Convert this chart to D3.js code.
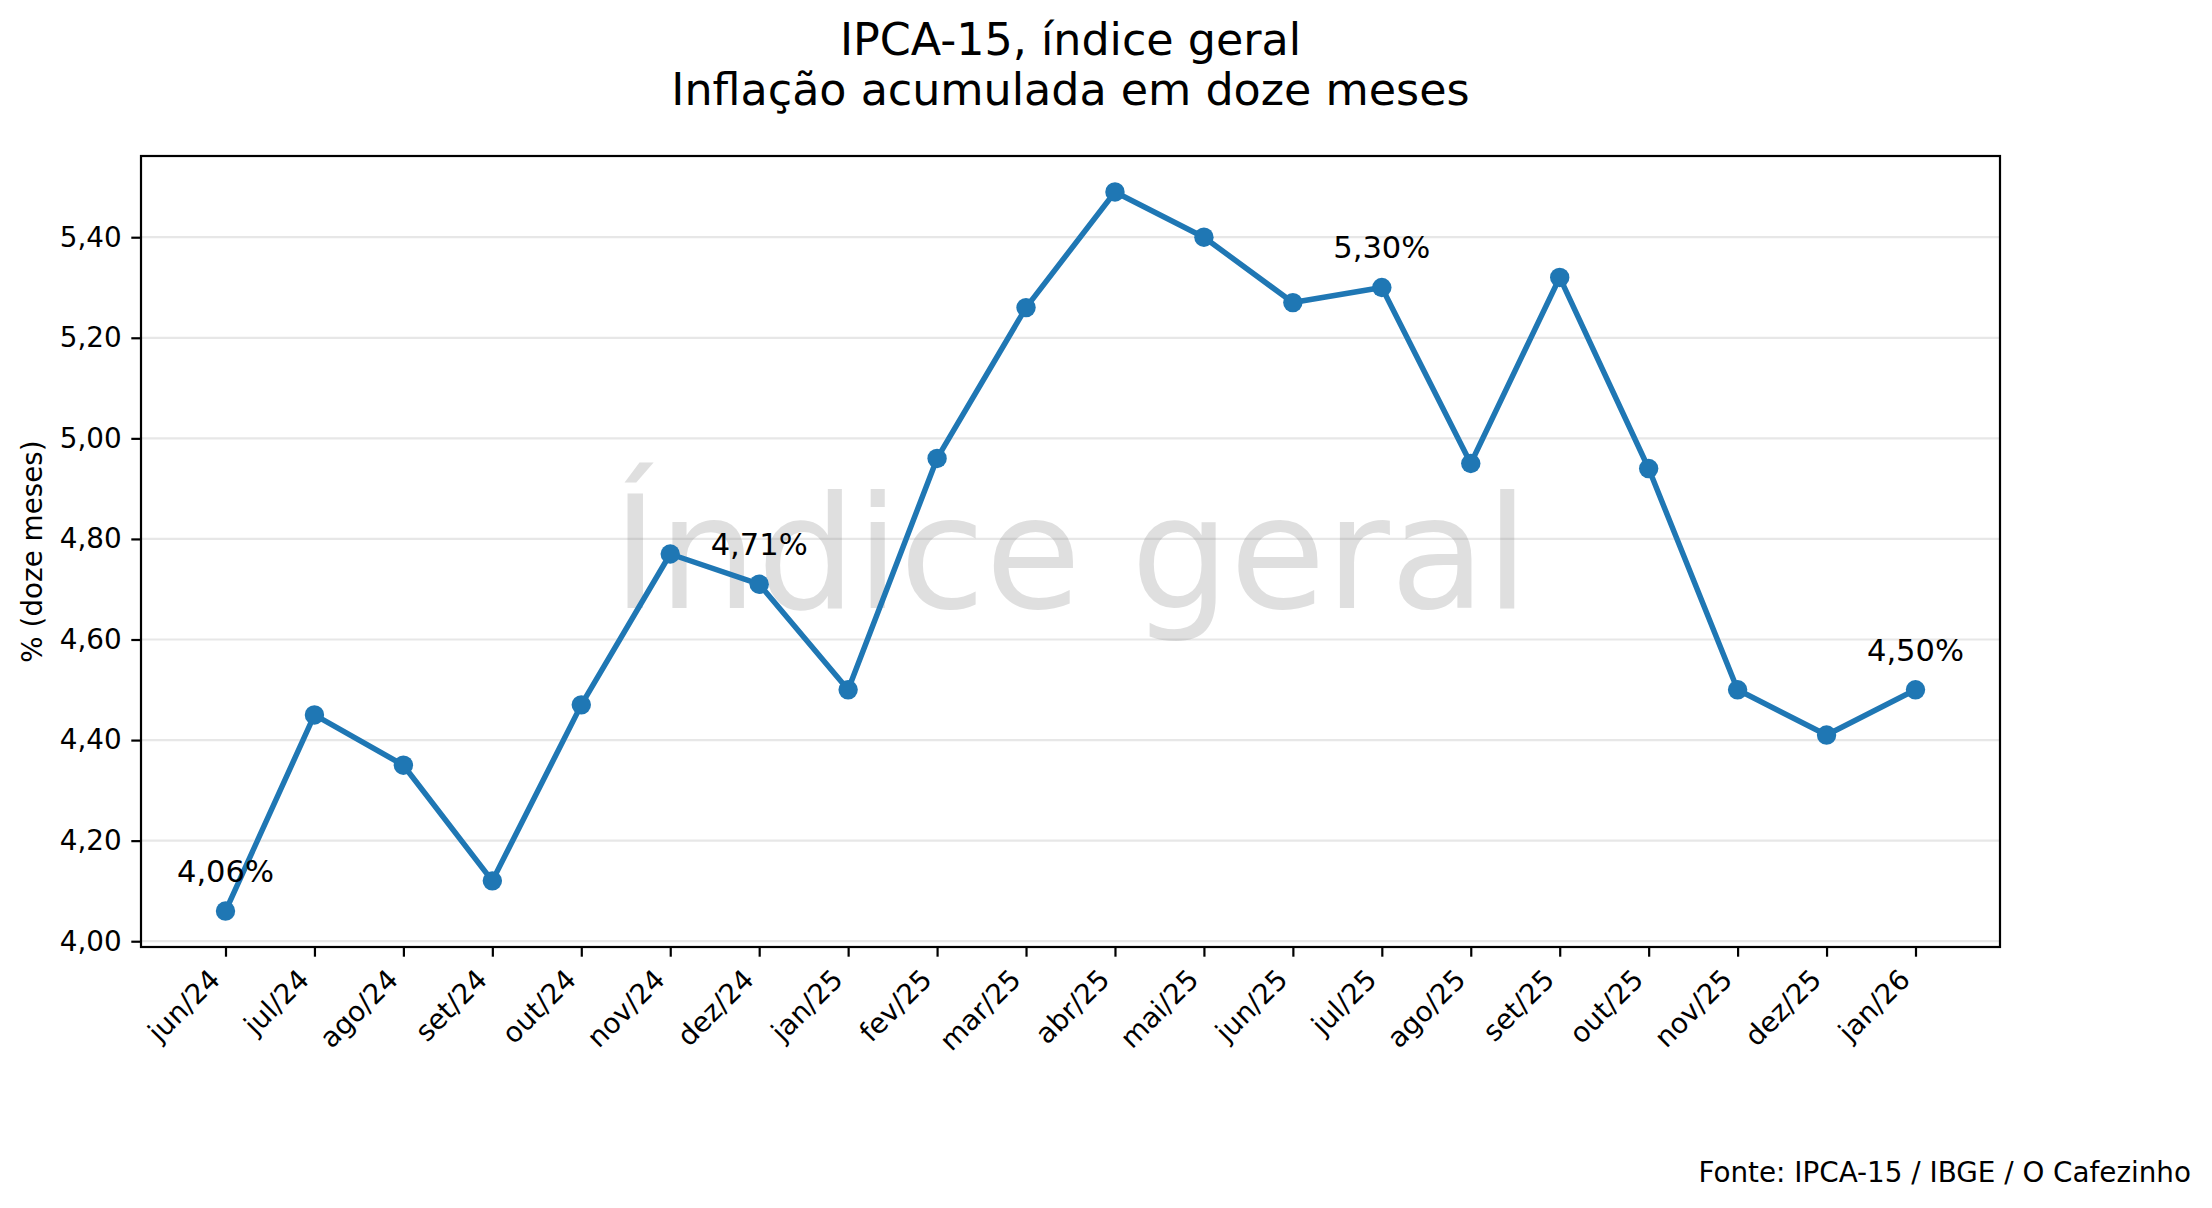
<!DOCTYPE html>
<meta charset="utf-8" />
<script src="https://d3js.org/d3.v7.min.js"></script>
<style>
  body { margin: 0; background: #fff; }
  svg { display: block; font-family: "DejaVu Sans", sans-serif; }
</style>
<div id="chart"></div>
<script>
  // data
  const months = [
    "jun/24", "jul/24", "ago/24", "set/24", "out/24", "nov/24", "dez/24",
    "jan/25", "fev/25", "mar/25", "abr/25", "mai/25", "jun/25", "jul/25",
    "ago/25", "set/25", "out/25", "nov/25", "dez/25", "jan/26"
  ];
  const values = [
    4.06, 4.45, 4.35, 4.12, 4.47, 4.77, 4.71,
    4.50, 4.96, 5.26, 5.49, 5.40, 5.27, 5.30,
    4.95, 5.32, 4.94, 4.50, 4.41, 4.50
  ];
  const labelled = ["jun/24", "dez/24", "jul/25", "jan/26"];
  const yTicks = [4.0, 4.2, 4.4, 4.6, 4.8, 5.0, 5.2, 5.4];

  const W = 2212, H = 1208;
  const plot = { left: 141, right: 2000, top: 156, bottom: 947 };
  const fs = 27.8; // 10pt at 200 dpi
  const tickLen = 9.7, tickPad = 9.7;
  const blue = "#1f77b4";

  const svg = d3.select("#chart").append("svg")
    .attr("width", W).attr("height", H);

  const x = d3.scalePoint().domain(months)
    .range([plot.left, plot.right]).padding(0.95);

  const yMin = d3.min(values), yMax = d3.max(values);
  const pad = (yMax - yMin) * 0.05;
  const y = d3.scaleLinear().domain([yMin - pad, yMax + pad])
    .range([plot.bottom, plot.top]);

  const comma = v => d3.format(".2f")(v).replace(".", ",");

  // grid
  svg.append("g").selectAll("line").data(yTicks).join("line")
    .attr("x1", plot.left).attr("x2", plot.right)
    .attr("y1", d => y(d)).attr("y2", d => y(d))
    .attr("stroke", "#b0b0b0").attr("stroke-opacity", 0.3)
    .attr("stroke-width", 2.2);

  // watermark
  svg.append("text")
    .attr("x", (plot.left + plot.right) / 2)
    .attr("y", 608)
    .attr("text-anchor", "middle")
    .style("font-size", "156px")
    .style("fill", "#808080")
    .style("fill-opacity", 0.25)
    .text("Índice geral");

  // y axis
  const yAxis = svg.append("g")
    .attr("transform", `translate(${plot.left},0)`)
    .call(d3.axisLeft(y).tickValues(yTicks).tickFormat(comma)
      .tickSize(tickLen).tickPadding(tickPad));
  yAxis.select(".domain").remove();
  yAxis.selectAll(".tick line").attr("stroke", "#000").attr("stroke-width", 2.2);
  yAxis.selectAll("text").style("font-size", fs + "px")
    .style("font-family", "DejaVu Sans").attr("fill", "#000");

  // x axis
  const xAxis = svg.append("g")
    .attr("transform", `translate(0,${plot.bottom})`)
    .call(d3.axisBottom(x).tickSize(tickLen).tickPadding(tickPad));
  xAxis.select(".domain").remove();
  xAxis.selectAll(".tick line").attr("stroke", "#000").attr("stroke-width", 2.2);
  xAxis.selectAll("text")
    .style("font-size", fs + "px")
    .style("font-family", "DejaVu Sans")
    .attr("fill", "#000")
    .attr("x", 0).attr("y", 0).attr("dy", 0)
    .attr("text-anchor", "end")
    .attr("transform", `translate(${-0.21 * fs / Math.SQRT2},${tickLen + tickPad + 0.76 * fs / Math.SQRT2}) rotate(-45)`);

  // frame
  svg.append("rect")
    .attr("x", plot.left).attr("y", plot.top)
    .attr("width", plot.right - plot.left)
    .attr("height", plot.bottom - plot.top)
    .attr("fill", "none").attr("stroke", "#000").attr("stroke-width", 2.2);

  // series
  const data = months.map((m, i) => ({ month: m, value: values[i] }));
  svg.append("path").datum(data)
    .attr("fill", "none").attr("stroke", blue)
    .attr("stroke-width", 5.5).attr("stroke-linejoin", "round")
    .attr("d", d3.line().x(d => x(d.month)).y(d => y(d.value)));

  svg.append("g").selectAll("circle").data(data).join("circle")
    .attr("cx", d => x(d.month)).attr("cy", d => y(d.value))
    .attr("r", 9.7).attr("fill", blue);

  // value labels
  svg.append("g").selectAll("text")
    .data(data.filter(d => labelled.includes(d.month))).join("text")
    .attr("x", d => x(d.month)).attr("y", d => y(d.value) - 29)
    .attr("text-anchor", "middle")
    .style("font-size", "30.56px")
    .text(d => comma(d.value) + "%");

  // y label
  svg.append("text")
    .attr("transform", `translate(42,${(plot.top + plot.bottom) / 2}) rotate(-90)`)
    .attr("text-anchor", "middle")
    .style("font-size", fs + "px")
    .text("% (doze meses)");

  // title
  const cx = (plot.left + plot.right) / 2;
  svg.append("text").attr("x", cx).attr("y", 55)
    .attr("text-anchor", "middle").style("font-size", "44.4px")
    .text("IPCA-15, índice geral");
  svg.append("text").attr("x", cx).attr("y", 105)
    .attr("text-anchor", "middle").style("font-size", "44.4px")
    .text("Inflação acumulada em doze meses");

  // source
  svg.append("text").attr("x", 2191).attr("y", 1182)
    .attr("text-anchor", "end").style("font-size", fs + "px")
    .text("Fonte: IPCA-15 / IBGE / O Cafezinho");
</script>
